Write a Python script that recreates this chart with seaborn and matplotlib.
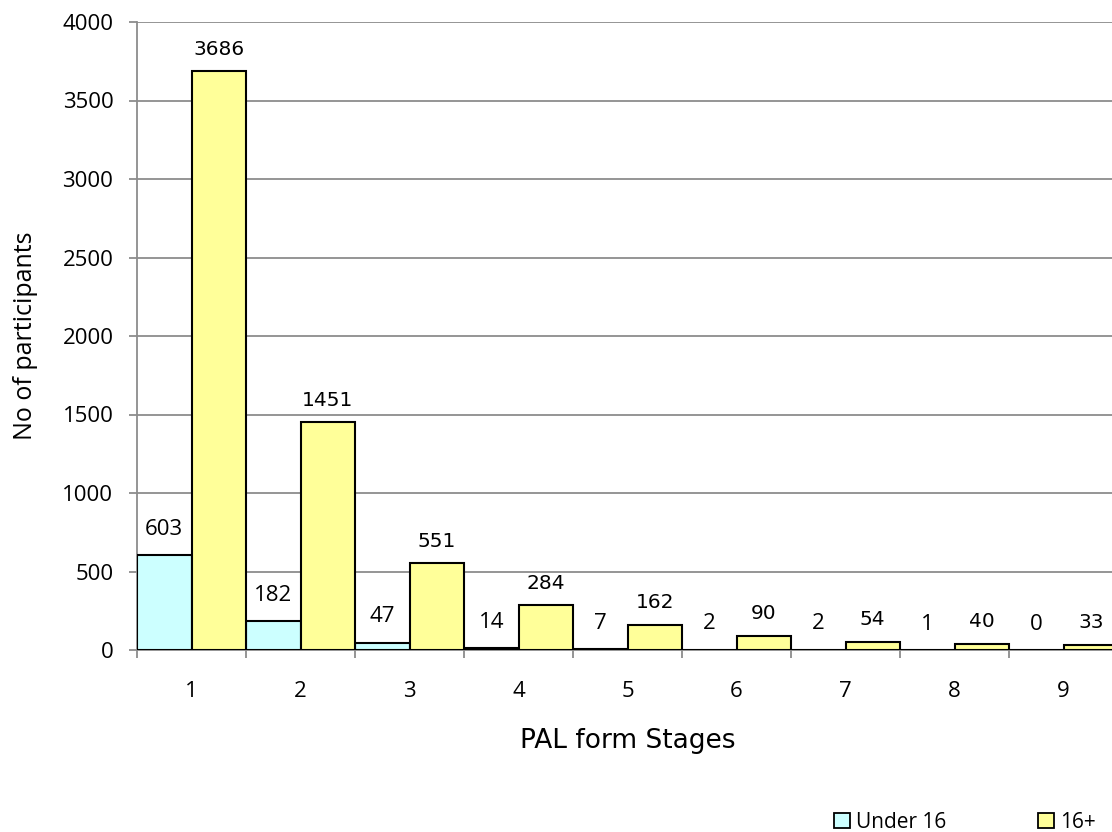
import matplotlib
matplotlib.use("Agg")
import matplotlib.pyplot as plt
from matplotlib.patches import Patch
import numpy as np
import pandas as pd
import seaborn as sns

stages = ["1", "2", "3", "4", "5", "6", "7", "8", "9"]
under16 = [603, 182, 47, 14, 7, 2, 2, 1, 0]
adults = [3686, 1451, 551, 284, 162, 90, 54, 40, 33]
groups = ["Under 16", "16+"]
colors = ["#CCFFFF", "#FFFF99"]
y_ticks = [0, 500, 1000, 1500, 2000, 2500, 3000, 3500, 4000]

df = pd.DataFrame({
    "stage": stages * 2,
    "count": under16 + adults,
    "group": [groups[0]] * len(stages) + [groups[1]] * len(stages),
})

sns.set_style("white")
plt.rcParams["font.family"] = ["DejaVu Sans"]
plt.rcParams["text.color"] = "black"
plt.rcParams["axes.labelcolor"] = "black"
plt.rcParams["xtick.labelcolor"] = "black"
plt.rcParams["ytick.labelcolor"] = "black"

SANS = ["Open Sans", "DejaVu Sans"]
GRID = "#8c8c8c"

W, H = 1112, 832
fig = plt.figure(figsize=(W / 100, H / 100), dpi=100)
ax = fig.add_axes([137 / W, 1 - 650 / H, 981 / W, 628 / H])

sns.barplot(data=df, x="stage", y="count", hue="group", order=stages,
            hue_order=groups, palette=colors, width=1.0, edgecolor="black",
            linewidth=1.5, saturation=1, dodge=True, legend=False, ax=ax, zorder=3)

ax.set_xlim(-0.5, len(stages) - 0.5)
ax.set_ylim(0, 4000)
ax.set_yticks(y_ticks)
ax.set_yticklabels([str(v) for v in y_ticks], fontsize=16, family=SANS)
ax.yaxis.grid(True, color=GRID, linewidth=1.3, zorder=0)
ax.set_axisbelow(True)

# category boundaries carry the tick marks, centres carry the labels
ax.set_xticks(np.arange(-0.5, len(stages), 1.0))
ax.set_xticklabels([])
ax.set_xticks(np.arange(len(stages)), minor=True)
ax.set_xticklabels(stages, minor=True, fontsize=16, family=SANS)
ax.tick_params(axis="x", which="major", direction="out", length=6, width=1.3,
               color=GRID, bottom=True)
ax.tick_params(axis="x", which="minor", length=0, pad=22)
ax.tick_params(axis="y", direction="out", length=6, width=1.3, color=GRID,
               left=True, pad=11)

for side in ["top", "right"]:
    ax.spines[side].set_visible(False)
for side in ["left", "bottom"]:
    ax.spines[side].set_color(GRID)
    ax.spines[side].set_linewidth(1.3)

ax.set_xlabel("PAL form Stages", fontsize=19, labelpad=0)
ax.xaxis.set_label_coords(0.5, -0.125)
ax.set_ylabel("No of participants", fontsize=18, family=SANS, labelpad=0)
ax.yaxis.set_label_coords(-0.101, 0.5)

# value labels above each bar
for i, v in enumerate(under16):
    ax.annotate(str(v), (i - 0.25, v), xytext=(0, 11), textcoords="offset points",
                ha="center", va="bottom", fontsize=16, family=SANS, clip_on=False)
for i, v in enumerate(adults):
    ax.annotate(str(v), (i + 0.25, v), xytext=(0, 9), textcoords="offset points",
                ha="center", va="bottom", fontsize=14.5, clip_on=False)

handles = [Patch(facecolor=c, edgecolor="black", linewidth=1.3) for c in colors]
fig.legend(handles, groups, loc="center left", bbox_to_anchor=(826 / W, 1 - 822 / H),
           ncol=2, frameon=False, handlelength=0.75, handleheight=0.75,
           handletextpad=0.3, columnspacing=4.4, borderaxespad=0,
           prop={"family": SANS, "size": 15})

fig.savefig("out.png", dpi=100)
